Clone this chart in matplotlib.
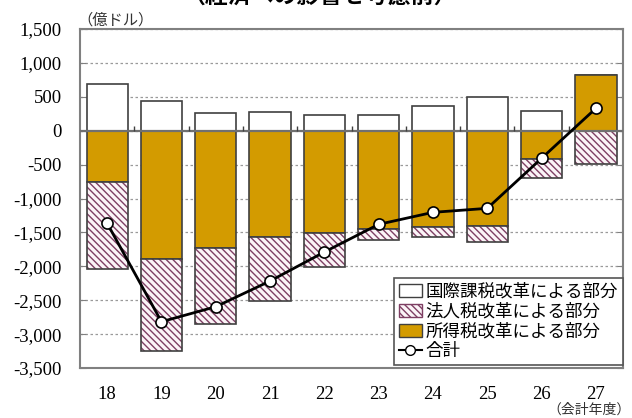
import matplotlib
matplotlib.use("Agg")
import matplotlib.pyplot as plt
from matplotlib.patches import Patch
from matplotlib.lines import Line2D
from matplotlib.ticker import FuncFormatter, MultipleLocator
import numpy as np

# 会計年度
years = ["18", "19", "20", "21", "22", "23", "24", "25", "26", "27"]
# 国際課税改革による部分
intl = [690, 434, 256, 271, 227, 227, 364, 493, 291, 0]
# 所得税改革による部分
income = [-760, -1897, -1725, -1573, -1514, -1450, -1416, -1401, -422, 822]
# 法人税改革による部分
corp = [-1285, -1348, -1131, -934, -502, -162, -156, -236, -280, -491]
# 合計
total = [-1366, -2817, -2596, -2217, -1789, -1381, -1204, -1145, -407, 330]

labels = ["国際課税改革による部分", "法人税改革による部分", "所得税改革による部分", "合計"]

gold = "#D39B00"
hatch_col = "#7E3F63"
edge = "#404040"
jp = ["Noto Sans CJK JP", "DejaVu Sans"]

plt.rcParams["font.family"] = ["Liberation Serif"]
plt.rcParams["hatch.linewidth"] = 1.0

fig = plt.figure(figsize=(6.32, 4.18), dpi=100)
ax = fig.add_axes([0.1266, 0.1196, 0.8592, 0.811])

x = np.arange(len(years))
w = 0.76
intl = np.array(intl)
income = np.array(income)
corp = np.array(corp)

# positive / negative stacking
inc_bottom = np.zeros(len(years))
corp_bottom = np.where(income < 0, income, 0)
intl_bottom = np.where(income > 0, income, 0)

ax.bar(x, intl, w, bottom=intl_bottom, color="white", edgecolor=edge, linewidth=1.2, zorder=3)
ax.bar(x, income, w, bottom=inc_bottom, color=gold, edgecolor=edge, linewidth=1.2, zorder=3)
ax.bar(x, corp, w, bottom=corp_bottom, color="#fbf4f7", edgecolor=hatch_col, hatch="\\" * 5,
       linewidth=0, zorder=3)
ax.bar(x, corp, w, bottom=corp_bottom, color="none", edgecolor=edge, linewidth=1.2, zorder=3)

ax.plot(x, total, color="black", linewidth=2, marker="o", markersize=8,
        markerfacecolor="white", markeredgecolor="black", markeredgewidth=1.2, zorder=5)

# zero line and category ticks
ax.axhline(0, color="#707070", linewidth=1.6, zorder=4)
ax.vlines(x[:-1] + 0.5, 0, 75, color="#404040", linewidth=1, zorder=4)

ax.set_xlim(-0.5, len(years) - 0.5)
ax.set_ylim(-3500, 1500)
ax.yaxis.set_major_locator(MultipleLocator(500))
ax.yaxis.set_major_formatter(FuncFormatter(lambda v, p: f"{v:,.0f}"))
ax.set_xticks(x)
ax.set_xticklabels(years)
ax.tick_params(axis="x", length=0, pad=13, labelsize=13.5)
ax.tick_params(axis="y", direction="in", length=4, color="#808080", right=True,
               labelsize=13.5, pad=13)
ax.grid(axis="y", linestyle=(0, (2, 2)), color="#9a9a9a", linewidth=0.9, zorder=0)
for s in ax.spines.values():
    s.set_color("#808080")
    s.set_linewidth(1.5)

handles = [
    Patch(facecolor="white", edgecolor=edge, linewidth=1.0),
    Patch(facecolor="#fbf4f7", edgecolor=hatch_col, hatch="\\" * 5, linewidth=1.0),
    Patch(facecolor=gold, edgecolor=edge, linewidth=1.0),
    Line2D([], [], color="black", linewidth=1.5, marker="o", markersize=7,
           markerfacecolor="white", markeredgecolor="black"),
]
leg = ax.legend(handles, labels, loc="lower right", bbox_to_anchor=(1.005, 0.0),
                borderaxespad=0.15, prop={"family": jp, "size": 12.6},
                handlelength=1.3, handleheight=0.75, handletextpad=0.2,
                labelspacing=0.1, borderpad=0.3, fancybox=False, framealpha=1)
leg.get_frame().set_edgecolor("#555555")
leg.get_frame().set_linewidth(1.2)
leg.set_zorder(6)

fig.text(0.122, 0.952, "（億ドル）", family=jp, fontsize=11, color="#333333",
         ha="left", va="center")
fig.text(0.998, 0.004, "（会計年度）", family=jp, fontsize=10, color="#333333",
         ha="right", va="bottom")
fig.text(0.506, 0.978, "（経済への影響を考慮前）", family=jp, fontsize=16.5,
         fontweight="bold", ha="center", va="bottom")

fig.savefig("out.png", dpi=100)
